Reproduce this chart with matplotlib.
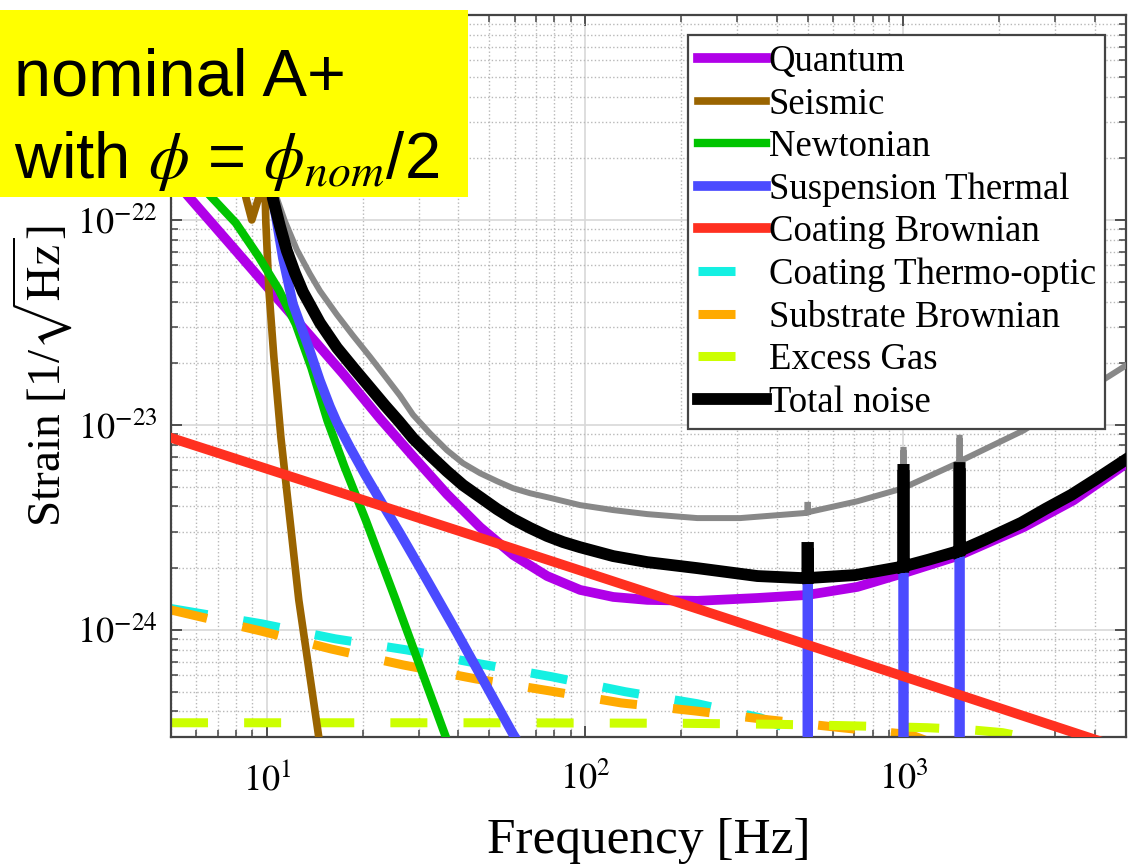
import matplotlib
matplotlib.use('Agg')
import matplotlib.pyplot as plt
from matplotlib.patches import Rectangle
from matplotlib.ticker import LogLocator, NullFormatter

plt.rcParams['font.family'] = ['Liberation Serif', 'DejaVu Serif']
plt.rcParams['mathtext.fontset'] = 'stix'

# ---------------- data ----------------
quantum_f = [5.0, 5.73, 8.05, 10.22, 13.65, 17.34, 22.66, 28.79, 36.81, 46.76, 59.36, 75.95,
             96.4, 122.5, 156.7, 225, 347.5, 498.8, 716.6, 1000, 1478, 2384, 3424, 4918]
quantum_h = [1.64e-22, 1.28e-22, 6.99e-23, 4.56e-23, 2.73e-23, 1.78e-23, 1.075e-23, 7.03e-24,
             4.59e-24, 3.17e-24, 2.32e-24, 1.83e-24, 1.566e-24, 1.447e-24, 1.40e-24, 1.385e-24,
             1.43e-24, 1.48e-24, 1.62e-24, 1.89e-24, 2.29e-24, 3.17e-24, 4.29e-24, 6.35e-24]

seismic_f = [5.0, 7.9, 8.59, 8.97, 9.44, 9.7, 9.93, 10.15, 10.52, 11.07, 12.6, 14.56, 16.0]
seismic_h = [1e-19, 5e-22, 1.29e-22, 1.0e-22, 1.29e-22, 4e-22, 9.7e-23, 4.56e-23, 2.15e-23,
             8.7e-24, 1.40e-24, 3.0e-25, 1e-25]

newton_f = [5.0, 6.71, 7.99, 9.44, 10.91, 12.33, 13.8, 15.5, 17.5, 20.5, 25.4, 36.5, 45.0]
newton_h = [2.1e-22, 1.29e-22, 9.67e-23, 6.60e-23, 4.56e-23, 3.10e-23, 1.9e-23, 1.05e-23,
            6.3e-24, 3.4e-24, 1.40e-24, 3.0e-25, 1.1e-25]

susp_f = [10.0, 10.44, 11.23, 12.07, 13.65, 14.68, 15.78, 16.60, 18.24, 20.33, 22.99, 26.19,
          31.85, 39.57, 59.36, 70, 100, 200, 450, 499, 499, 501, 501, 550, 950, 999, 999,
          1001, 1001, 1100, 1450, 1499, 1499, 1501, 1501, 1600, 5000]
susp_h = [5e-22, 1.28e-22, 6.53e-23, 3.90e-23, 2.30e-23, 1.646e-23, 1.23e-23, 1.028e-23,
          7.77e-24, 5.74e-24, 4.15e-24, 2.96e-24, 1.75e-24, 9.67e-25, 3.1e-25, 2.06e-25, 8e-26,
          1.3e-26, 2e-27, 2e-27, 2.5e-24, 2.5e-24, 2e-27, 2e-27, 5e-28, 5e-28, 6.0e-24, 6.0e-24,
          5e-28, 5e-28, 2e-28, 2e-28, 6.1e-24, 6.1e-24, 2e-28, 2e-28, 1e-29]

coatbr_f = [5, 50, 500, 5000]
coatbr_h = [8.65e-24, 2.72e-24, 8.45e-25, 2.6e-25]

cto_f = [5.0, 9.64, 16.4, 27.5, 46.8, 78.7, 133.6, 225, 355, 441, 500, 540, 569, 650, 5000]
cto_h = [1.27e-24, 1.07e-24, 9.04e-25, 7.98e-25, 6.82e-25, 5.90e-25, 4.99e-25, 4.36e-25,
         3.72e-25, 3.25e-25, 2.8e-25, 1.5e-25, 2.97e-25, 2.85e-25, 1.2e-25]

subbr_f = [5.0, 9.5, 15.9, 26.8, 45.4, 77.1, 129.7, 221.6, 376, 638, 1052, 1500, 5000]
subbr_h = [1.25e-24, 9.9e-25, 8.07e-25, 6.74e-25, 5.76e-25, 5.04e-25, 4.40e-25, 4.02e-25,
           3.64e-25, 3.33e-25, 3.08e-25, 2.5e-25, 1.5e-25]

gas_f = [5, 50, 200, 400, 696, 1189, 1600, 2047, 2400, 3000, 5000]
gas_h = [3.52e-25, 3.52e-25, 3.50e-25, 3.46e-25, 3.40e-25, 3.33e-25, 3.26e-25, 3.15e-25,
         3.0e-25, 2.85e-25, 2.5e-25]

total_f = [10.0, 10.44, 10.99, 11.56, 12.25, 12.98, 14.68, 16.60, 18.91, 21.09, 23.50, 26.01,
           28.79, 32.55, 36.81, 41.34, 46.76, 52.88, 59.36, 67.14, 75.95, 85.27, 96.4, 122.5,
           156.7, 225, 347.5, 474.6, 499, 499, 501, 501, 706, 985, 999, 999, 1001, 1001,
           1200, 1456, 1499, 1499, 1501, 1501, 1800, 2345, 2800, 3370, 4000, 4943]
total_h = [5e-22, 1.28e-22, 9.35e-23, 7.07e-23, 5.52e-23, 4.46e-23, 3.15e-23, 2.38e-23,
           1.86e-23, 1.52e-23, 1.244e-23, 1.04e-23, 8.60e-24, 7.11e-24, 5.94e-24, 5.08e-24,
           4.44e-24, 3.88e-24, 3.47e-24, 3.14e-24, 2.87e-24, 2.68e-24, 2.53e-24, 2.29e-24,
           2.14e-24, 2.00e-24, 1.83e-24, 1.79e-24, 1.79e-24, 2.51e-24, 2.51e-24, 1.79e-24,
           1.85e-24, 2.03e-24, 2.03e-24, 6.03e-24, 6.03e-24, 2.04e-24, 2.2e-24, 2.40e-24,
           2.42e-24, 6.16e-24, 6.16e-24, 2.43e-24, 2.75e-24, 3.33e-24, 3.9e-24, 4.56e-24,
           5.4e-24, 6.7e-24]

ref_f = [10.3, 10.75, 11.39, 12.43, 13.65, 14.68, 16.60, 18.64, 21.09, 23.85, 26.19, 28.79,
         32.55, 36.81, 41.34, 46.76, 52.88, 59.36, 67.14, 75.95, 96.4, 122.5, 156.7, 225,
         307, 484.8, 499, 499, 501, 501, 716.6, 985, 999, 999, 1001, 1001, 1478, 1499, 1499,
         1501, 1501, 2384, 3424, 5000]
ref_h = [5e-22, 1.28e-22, 9.89e-23, 7.15e-23, 5.46e-23, 4.51e-23, 3.45e-23, 2.73e-23,
         2.15e-23, 1.68e-23, 1.39e-23, 1.12e-23, 9.09e-24, 7.52e-24, 6.50e-24, 5.81e-24,
         5.31e-24, 4.91e-24, 4.64e-24, 4.44e-24, 4.06e-24, 3.84e-24, 3.67e-24, 3.51e-24,
         3.51e-24, 3.71e-24, 3.74e-24, 4.07e-24, 4.07e-24, 3.75e-24, 4.24e-24, 4.88e-24,
         4.92e-24, 7.55e-24, 7.55e-24, 4.93e-24, 6.50e-24, 6.62e-24, 8.65e-24, 8.65e-24,
         6.64e-24, 9.40e-24, 1.345e-23, 1.95e-23]

labels = ['Quantum', 'Seismic', 'Newtonian', 'Suspension Thermal', 'Coating Brownian',
          'Coating Thermo-optic', 'Substrate Brownian', 'Excess Gas', 'Total noise']
xtick_vals = [10, 100, 1000]
xtick_exp = [1, 2, 3]
ytick_vals = [1e-24, 1e-23, 1e-22]
ytick_exp = [-24, -23, -22]

# ---------------- figure ----------------
W, H = 1129, 868
fig = plt.figure(figsize=(W / 100, H / 100), dpi=100)
ax = fig.add_axes([171 / W, 1 - 737 / H, (1126 - 171) / W, (737 - 15) / H])

dash = (4.1, 4.0)
ax.plot(cto_f, cto_h, color='#14f0e2', lw=6.5, dashes=dash, dash_capstyle='butt',
        zorder=2, label=labels[5])
ax.plot(subbr_f, subbr_h, color='#ffaa00', lw=6.5, dashes=dash, dash_capstyle='butt',
        zorder=2.1, label=labels[6])
ax.plot(gas_f, gas_h, color='#ccff00', lw=6.5, dashes=dash, dash_capstyle='butt',
        zorder=2.2, label=labels[7])

ax.plot(quantum_f, quantum_h, color='#b000e8', lw=7, zorder=3, label=labels[0])
ax.plot(seismic_f, seismic_h, color='#9a6400', lw=5.5, zorder=3.1, label=labels[1])
ax.plot(newton_f, newton_h, color='#00c400', lw=6, zorder=3.2, label=labels[2])
ax.plot(susp_f, susp_h, color='#4b4bff', lw=7, zorder=3.3, label=labels[3],
        solid_joinstyle='miter')
ax.plot(coatbr_f, coatbr_h, color='#ff3020', lw=7, zorder=3.4, label=labels[4])
ax.plot(ref_f, ref_h, color='#888888', lw=4.3, zorder=3.8, solid_joinstyle='miter')
ax.plot(total_f, total_h, color='black', lw=8.5, zorder=4, label=labels[8],
        solid_joinstyle='miter')

ax.set_xscale('log')
ax.set_yscale('log')

ax.xaxis.set_minor_locator(LogLocator(base=10, subs=range(2, 10), numticks=50))
ax.yaxis.set_minor_locator(LogLocator(base=10, subs=range(2, 10), numticks=50))
ax.xaxis.set_minor_formatter(NullFormatter())
ax.yaxis.set_minor_formatter(NullFormatter())
ax.set_xticks(xtick_vals)
ax.set_xticklabels([r'$10^{%d}$' % e for e in xtick_exp])
ax.set_yticks(ytick_vals)
ax.set_yticklabels([r'$10^{%d}$' % e for e in ytick_exp])
ax.set_xlim(5, 5000)
ax.set_ylim(3.0e-25, 1.0e-21)

ax.grid(True, which='major', color='#d8d8d8', lw=1.2, ls='-', zorder=0)
ax.grid(True, which='minor', color='#b8b8b8', lw=1.0, ls=':', zorder=0)
ax.set_axisbelow(True)

for s in ax.spines.values():
    s.set_color('#444444')
    s.set_linewidth(1.6)
ax.tick_params(which='both', direction='in', top=True, right=True, colors='#444444',
               labelcolor='black')
ax.tick_params(which='major', length=8, width=1.3, labelsize=26)
ax.tick_params(which='minor', length=5, width=1.1)
ax.tick_params(axis='x', which='major', pad=18)
ax.tick_params(axis='y', which='major', pad=10)

ax.set_xlabel('Frequency [Hz]', fontsize=37)
ax.xaxis.set_label_coords(0.5, -0.112)
ax.set_ylabel(r'Strain [1/$\sqrt{\mathrm{Hz}}$]', fontsize=34)
ax.yaxis.set_label_coords(-0.100, 0.5)

handles, labs = ax.get_legend_handles_labels()
order = [labs.index(l) for l in labels]
leg = ax.legend([handles[i] for i in order], [labs[i] for i in order],
                loc='upper right', bbox_to_anchor=(0.978, 0.972), borderaxespad=0,
                fontsize=26.5, handlelength=1.85, handletextpad=0.08, labelspacing=0.22,
                borderpad=0.25, fancybox=False, framealpha=1, edgecolor='#444444')
leg.get_frame().set_linewidth(1.6)
leg.set_zorder(10)

# yellow annotation box
fig.patches.append(Rectangle((0, 1 - 197 / H), 468 / W, 187 / H, transform=fig.transFigure,
                             facecolor='#ffff00', edgecolor='none', zorder=20))
fig.text(14 / W, 1 - 95 / H, 'nominal A+', fontsize=48, family=['Liberation Sans'],
         va='baseline', ha='left', zorder=21)
fig.text(14 / W, 1 - 178 / H, r'with $\phi$ = $\phi_{nom}$/2', fontsize=47,
         family=['Liberation Sans'], va='baseline', ha='left', zorder=21)

fig.savefig('out.png', dpi=100)
